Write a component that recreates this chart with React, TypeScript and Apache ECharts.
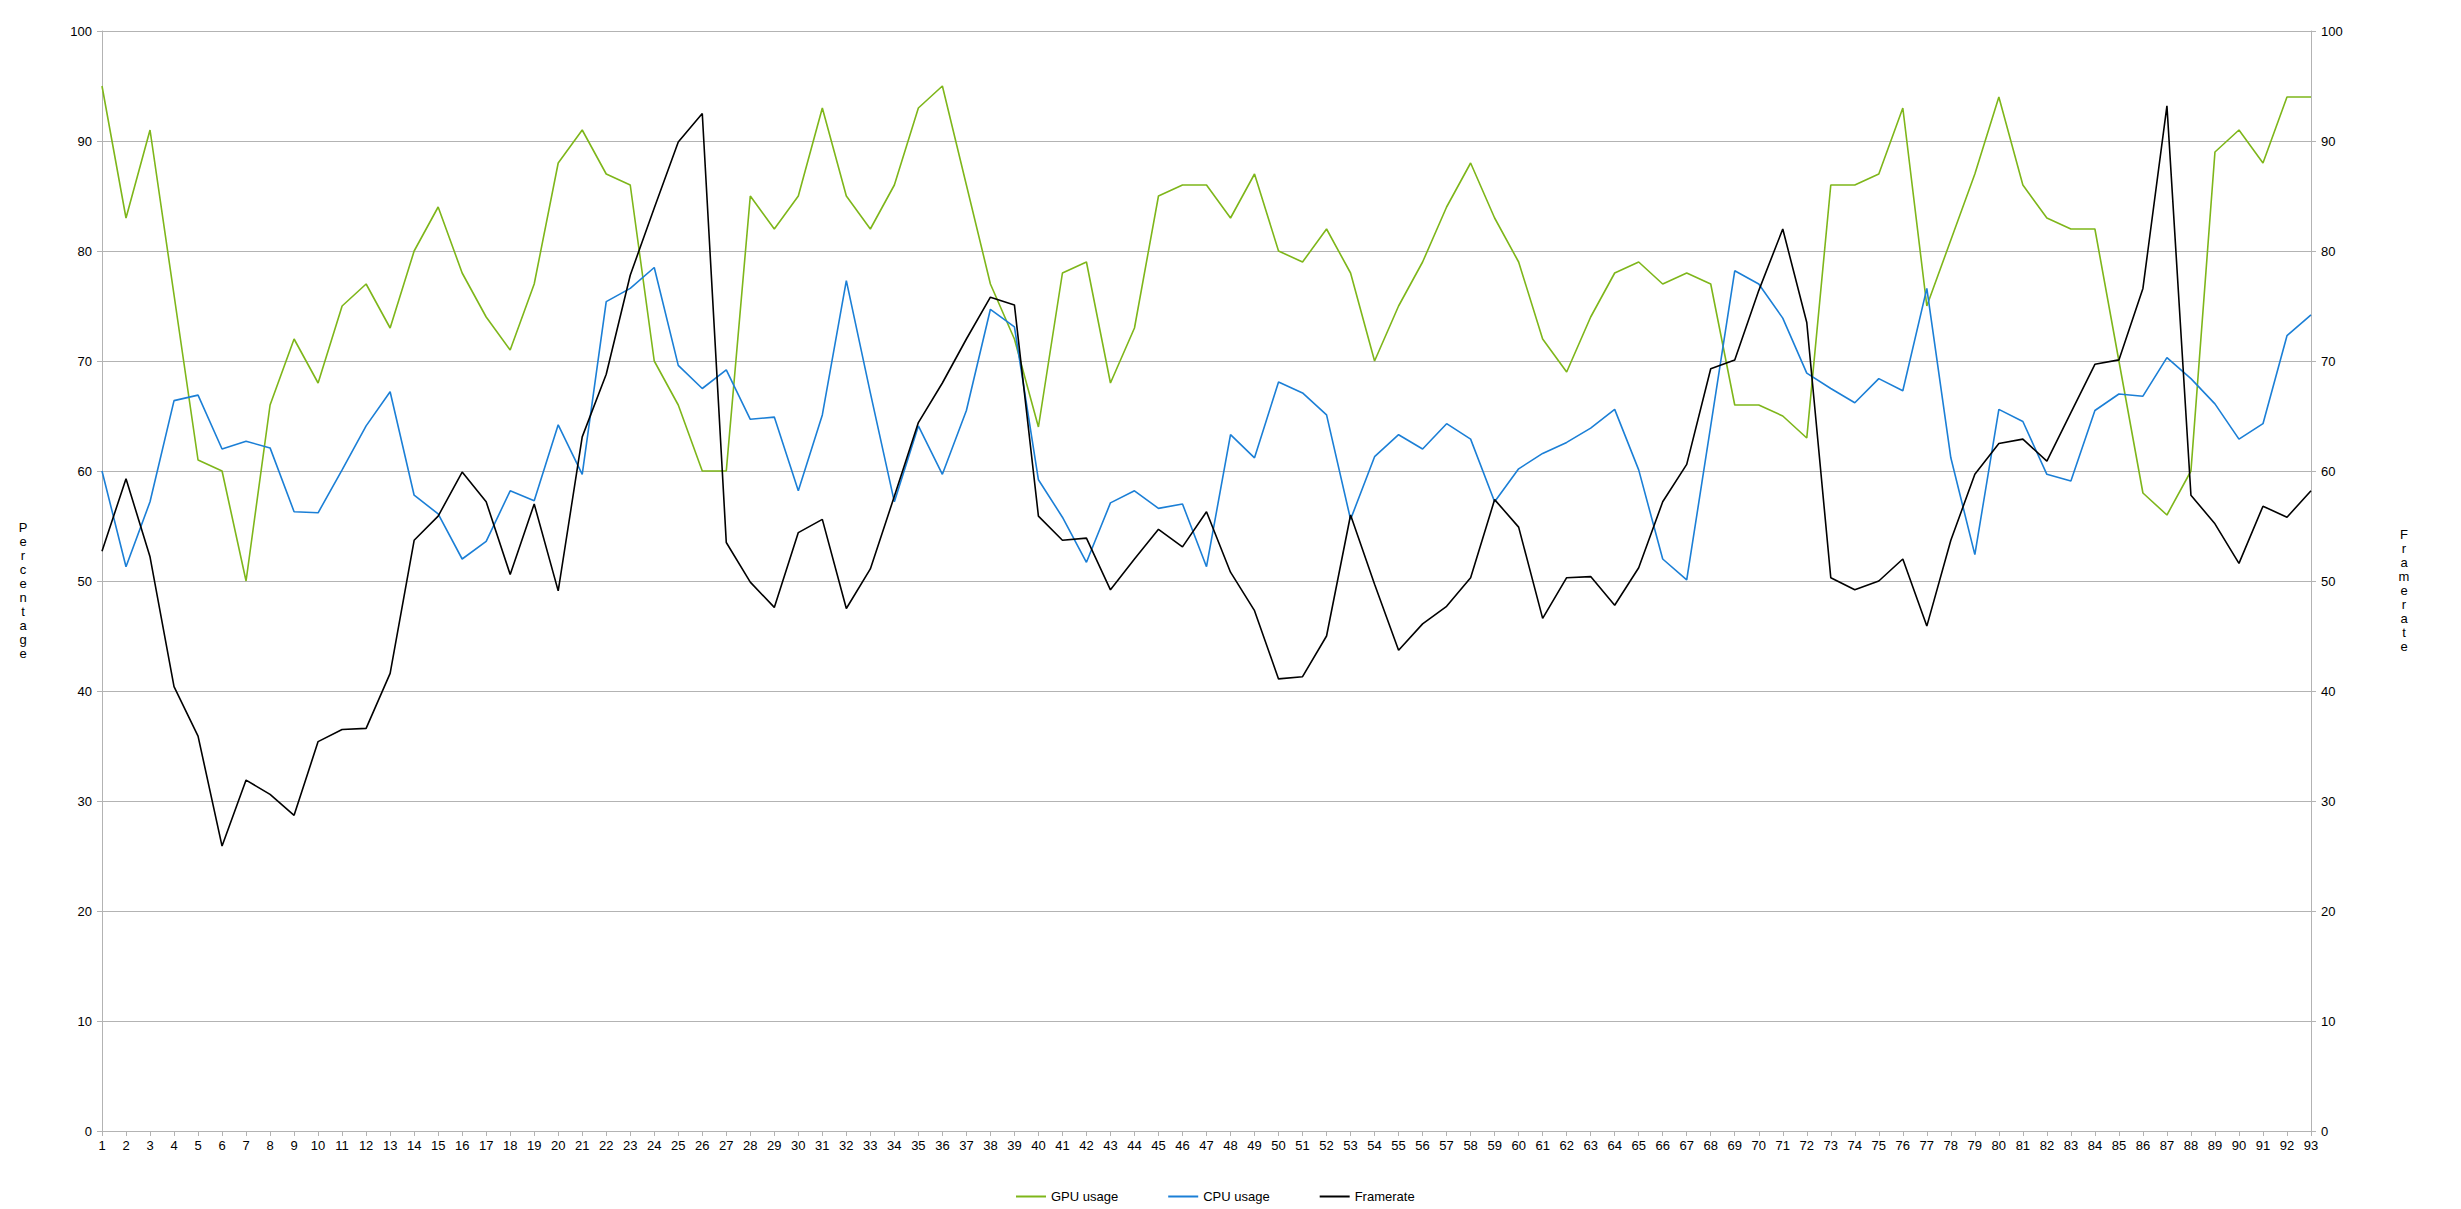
import React, { useEffect, useRef } from "react";
import * as echarts from "echarts";

const categories: string[] = Array.from({ length: 93 }, (_, i) => String(i + 1));

const gpuUsage: number[] = [
  95, 83, 91, 76, 61, 60, 50, 66, 72, 68, 75, 77,
  73, 80, 84, 78, 74, 71, 77, 88, 91, 87, 86, 70,
  66, 60, 60, 85, 82, 85, 93, 85, 82, 86, 93, 95,
  86, 77, 72, 64, 78, 79, 68, 73, 85, 86, 86,
  83, 87, 80, 79, 82, 78, 70, 75, 79, 84, 88,
  83, 79, 72, 69, 74, 78, 79, 77, 78, 77, 66, 66,
  65, 63, 86, 86, 87, 93, 75, 81, 87, 94, 86, 83,
  82, 82, 70, 58, 56, 60, 89, 91, 88, 94, 94,
];

const cpuUsage: number[] = [
  60, 51.3, 57.2, 66.4, 66.9, 62.0, 62.7, 62.1, 56.3, 56.2, 60.1, 64.1,
  67.2, 57.8, 56.1, 52.0, 53.6, 58.2, 57.3, 64.2, 59.7, 75.4, 76.6, 78.5,
  69.6, 67.5, 69.2, 64.7, 64.9, 58.2, 65.1, 77.3, 67.1, 57.2, 64.1, 59.7,
  65.5, 74.7, 73.1, 59.2, 55.8, 51.7, 57.1, 58.2, 56.6, 57.0, 51.3,
  63.3, 61.2, 68.1, 67.1, 65.1, 55.6, 61.3, 63.3, 62.0, 64.3, 62.9,
  57.2, 60.2, 61.6, 62.6, 63.9, 65.6, 60.1, 52.0, 50.1, 64.1, 78.2, 77.0,
  73.9, 68.9, 67.5, 66.2, 68.4, 67.3, 76.6, 61.2, 52.4, 65.6, 64.5, 59.7,
  59.1, 65.5, 67.0, 66.8, 70.3, 68.4, 66.1, 62.9, 64.3, 72.3, 74.2,
];

const framerate: number[] = [
  52.7, 59.3, 52.2, 40.4, 35.9, 25.9, 31.9, 30.6, 28.7, 35.4, 36.5, 36.6,
  41.6, 53.7, 55.9, 59.9, 57.2, 50.6, 57.0, 49.1, 63.1, 68.8, 77.8, 83.9,
  89.9, 92.5, 53.5, 49.9, 47.6, 54.4, 55.6, 47.5, 51.1, 57.7, 64.4, 68.0,
  72.0, 75.8, 75.1, 55.9, 53.7, 53.9, 49.2, 52.0, 54.7, 53.1, 56.3,
  50.8, 47.3, 41.1, 41.3, 45.0, 56.0, 49.7, 43.7, 46.1, 47.7, 50.3,
  57.4, 54.9, 46.6, 50.3, 50.4, 47.8, 51.2, 57.2, 60.6, 69.3, 70.1, 76.4,
  82.0, 73.5, 50.3, 49.2, 50.0, 52.0, 45.9, 53.7, 59.7, 62.5, 62.9, 60.9,
  65.3, 69.7, 70.1, 76.6, 93.2, 57.8, 55.2, 51.6, 56.8, 55.8, 58.2,
];

const seriesNames = ["GPU usage", "CPU usage", "Framerate"];
const seriesColors = ["#7eb61a", "#1b7fd6", "#000000"];
const leftTitle = "Percentage";
const rightTitle = "Framerate";

const FONT = "'Liberation Sans', Arial, sans-serif";

export default function App() {
  const ref = useRef<HTMLDivElement>(null);

  useEffect(() => {
    if (!ref.current) return;
    const chart = echarts.init(ref.current, undefined, { renderer: "svg" });
    const gridColor = "#b3b3b3";
    const yAxisCommon = {
      type: "value" as const,
      min: 0,
      max: 100,
      interval: 10,
      axisLine: { show: true, lineStyle: { color: gridColor, width: 1 } },
      axisTick: { show: true, length: 5, lineStyle: { color: gridColor } },
      axisLabel: { color: "#000", fontSize: 13, fontFamily: FONT, margin: 10 },
      splitLine: { show: true, lineStyle: { color: gridColor, width: 1 } },
    };
    const datasets = [gpuUsage, cpuUsage, framerate];
    chart.setOption({
      animation: false,
      backgroundColor: "#ffffff",
      textStyle: { fontFamily: FONT },
      grid: { left: 102, right: 150, top: 31, height: 1100 },
      legend: {
        left: 1011,
        top: 1185,
        icon: "rect",
        itemWidth: 30,
        itemHeight: 2,
        itemGap: 50,
        textStyle: { color: "#000", fontSize: 13, fontFamily: FONT },
        data: seriesNames,
      },
      xAxis: {
        type: "category",
        data: categories,
        boundaryGap: false,
        axisLine: { show: true, lineStyle: { color: gridColor } },
        axisTick: { show: true, length: 5, lineStyle: { color: gridColor } },
        axisLabel: { color: "#000", fontSize: 13, fontFamily: FONT, interval: 0, margin: 8 },
        splitLine: { show: false },
      },
      yAxis: [
        { ...yAxisCommon, position: "left" },
        { ...yAxisCommon, position: "right", splitLine: { show: false } },
      ],
      graphic: [
        {
          type: "text",
          x: 23,
          y: 590,
          style: {
            text: leftTitle.split("").join("\n"),
            fontSize: 13,
            fontFamily: FONT,
            fill: "#000",
            align: "center",
            verticalAlign: "middle",
            lineHeight: 14,
          },
        },
        {
          type: "text",
          x: 2404,
          y: 590,
          style: {
            text: rightTitle.split("").join("\n"),
            fontSize: 13,
            fontFamily: FONT,
            fill: "#000",
            align: "center",
            verticalAlign: "middle",
            lineHeight: 14,
          },
        },
      ],
      series: seriesNames.map((name, i) => ({
        name,
        type: "line",
        yAxisIndex: i === 2 ? 1 : 0,
        data: datasets[i],
        symbol: "none",
        showSymbol: false,
        color: seriesColors[i],
        lineStyle: { color: seriesColors[i], width: 1.6 },
      })),
    });
    return () => chart.dispose();
  }, []);

  return (
    <div
      ref={ref}
      style={{ position: "fixed", left: 0, top: 0, width: 2461, height: 1209, background: "#fff" }}
    />
  );
}
